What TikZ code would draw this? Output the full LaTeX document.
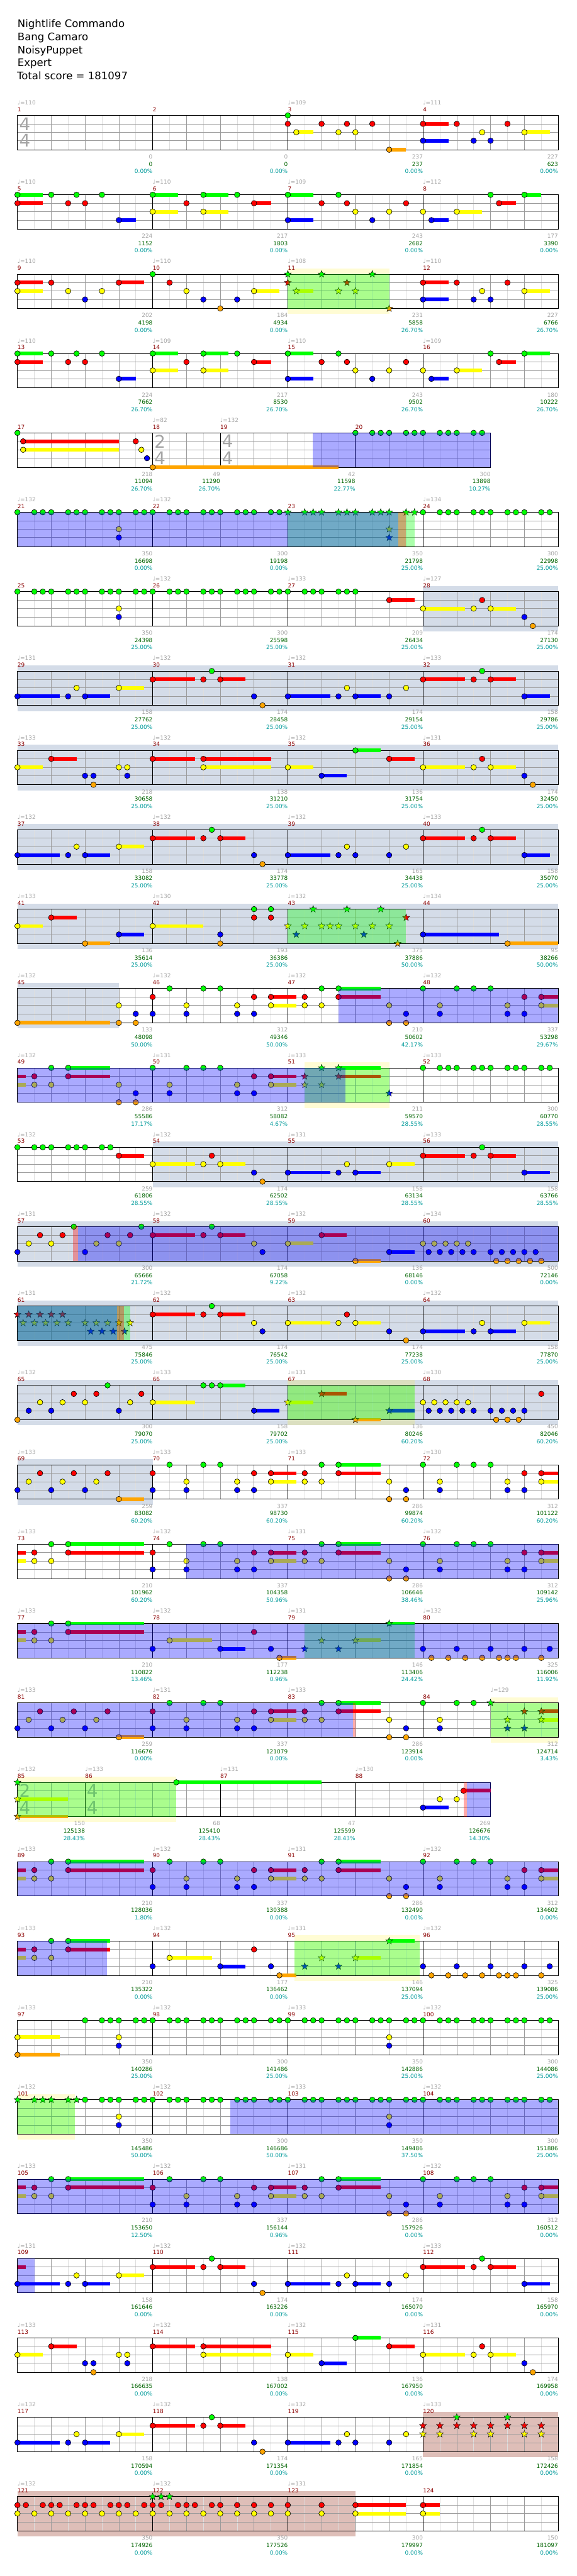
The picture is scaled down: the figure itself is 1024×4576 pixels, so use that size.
\documentclass[tikz,border=0pt]{standalone}
\usepackage{fontspec}
\setmainfont{DejaVu Sans}

% fret colours
\definecolor{fret0}{RGB}{0,255,0}
\definecolor{fret1}{RGB}{255,0,0}
\definecolor{fret2}{RGB}{255,255,0}
\definecolor{fret3}{RGB}{0,0,255}
\definecolor{fret4}{RGB}{255,165,0}
% text and grid colours
\definecolor{numred}{RGB}{139,0,0}
\definecolor{scoregreen}{RGB}{0,100,0}
\definecolor{pctteal}{RGB}{0,155,155}
\definecolor{tempogray}{RGB}{165,165,165}
\definecolor{solobg}{RGB}{212,220,232}
\definecolor{rosebg}{RGB}{222,190,184}
\definecolor{gridgray}{RGB}{155,155,155}
\definecolor{halfgray}{RGB}{222,222,222}

\tikzset{
  halfline/.style={halfgray, line width=0.7pt},
  beatline/.style={gridgray, line width=0.8pt},
  staffline/.style={black, line width=0.9pt},
  smalltext/.style={inner sep=0pt, font=\fontsize{10}{12}\selectfont},
  numlabel/.style={smalltext, numred},
  tempolabel/.style={smalltext, tempogray},
  gscore/.style={smalltext, tempogray},
  sscore/.style={smalltext, scoregreen},
  pscore/.style={smalltext, pctteal},
  tsig/.style={inner sep=0pt, tempogray, font=\fontsize{31}{31}\selectfont},
  titletext/.style={inner sep=0pt, font=\fontsize{18.5}{22}\selectfont},
  fretnote/.style={draw=black, line width=0.7pt},
}

% y of a lane inside a staff
\newcommand{\lanepos}[1]{\pgfmathsetmacro\ny{(#1<4)*15*#1+(#1==4)*61}}
% note: beat, lane, sustain
\newcommand{\nt}[3]{%
  \lanepos{#2}%
  \ifdim #3 pt>0pt \fill[fret#2] ({60*(#1)},\ny-3.3) rectangle ({60*(#1+#3)},\ny+3.3);\fi
  \filldraw[fretnote, fill=fret#2] ({60*(#1)},\ny) circle (4.9pt);}
% star power note
\newcommand{\spn}[3]{%
  \lanepos{#2}%
  \ifdim #3 pt>0pt \fill[fret#2] ({60*(#1)},\ny-3.3) rectangle ({60*(#1+#3)},\ny+3.3);\fi
  \filldraw[fretnote, line width=0.5pt, fill=fret#2, shift={({60*(#1)},\ny)}]
    (90:6.5pt) -- (126:2.7pt) -- (162:6.5pt) -- (198:2.7pt) -- (234:6.5pt) -- (270:2.7pt)
    -- (306:6.5pt) -- (342:2.7pt) -- (18:6.5pt) -- (54:2.7pt) -- cycle;}
% sustain carried over from the row before
\newcommand{\tail}[3]{\lanepos{#2}\fill[fret#2] ({60*(#1)},\ny-3.3) rectangle ({60*(#1+#3)},\ny+3.3);}

\newcommand{\notes}[1]{\foreach \pos/\lane in {#1} {\nt{\pos}{\lane}{0}}}
\newcommand{\holds}[1]{\foreach \pos/\lane/\len in {#1} {\nt{\pos}{\lane}{\len}}}
\newcommand{\stars}[1]{\foreach \pos/\lane in {#1} {\spn{\pos}{\lane}{0}}}
\newcommand{\starholds}[1]{\foreach \pos/\lane/\len in {#1} {\spn{\pos}{\lane}{\len}}}
\newcommand{\greenrun}[2]{\foreach \k in {#1,...,#2} {\nt{\k}{0}{0}\nt{\k+0.5}{0}{0}\nt{\k+0.75}{0}{0}}}
\newcommand{\starrun}[2]{\foreach \k in {#1,...,#2} {\spn{\k}{0}{0}\spn{\k+0.5}{0}{0}\spn{\k+0.75}{0}{0}}}

% shaded sections
\newcommand{\soloband}[2]{\fill[solobg] ({60*(#1)},-10) rectangle ({60*(#2)},71);}
\newcommand{\roseband}[2]{\fill[rosebg] ({60*(#1)},-10) rectangle ({60*(#2)},71);}
\newcommand{\spband}[2]{\fill[yellow, fill opacity=0.17] ({60*(#1)},-10) rectangle ({60*(#2)},71);}
\newcommand{\spgreen}[2]{\fill[fret0, fill opacity=0.333] ({60*(#1)},0) rectangle ({60*(#2)},61);}
\newcommand{\spred}[2]{\fill[fret1, fill opacity=0.333] ({60*(#1)},0) rectangle ({60*(#2)},61);}
\newcommand{\spblue}[2]{\fill[fret3, fill opacity=0.333] ({60*(#1)},0) rectangle ({60*(#2)},61);}

% empty staff of #1 beats
\newcommand{\staffgrid}[1]{%
  \pgfmathtruncatemacro\nh{2*#1-1}%
  \foreach \i in {1,...,\nh} \draw[halfline] ({30*\i},0) -- ({30*\i},61);
  \pgfmathtruncatemacro\nb{#1-1}%
  \foreach \i in {1,...,\nb} \draw[beatline] ({60*\i},0) -- ({60*\i},61);
  \foreach \y in {15,30,45} \draw[beatline] (0,\y) -- ({60*#1},\y);
  \draw[staffline] (0,0) rectangle ({60*#1},61);}

% bars: start/beats/number/tempo/base/total/percent
\newcommand{\bars}[1]{%
  \foreach \mstart/\dur/\num/\bpm/\ga/\gb/\pc in {#1} {
    \ifdim \mstart pt>0pt \draw[staffline] ({60*\mstart},0) -- ({60*\mstart},61);\fi
    \node[numlabel, anchor=base west] (m\num) at ({60*\mstart},-7) {\num};
    \ifnum\bpm>0 \node[tempolabel, anchor=base west] (tp\num) at ({60*\mstart},-19) {♩=\bpm};\fi
    \node[gscore, anchor=base east] (ga\num) at ({60*(\mstart+\dur)},77) {\ga};
    \node[sscore, anchor=base east] (gb\num) at ({60*(\mstart+\dur)},90) {\gb};
    \node[pscore, anchor=base east] (pc\num) at ({60*(\mstart+\dur)},103) {\pc\%};
  }}
\newcommand{\timesig}[4]{%
  \node[tsig] (#4a) at ({60*(#1)+13},15) {#2};
  \node[tsig] (#4b) at ({60*(#1)+13},45) {#3};}

% recurring chorus figure, beats 4-16
\newcommand{\chorus}{%
  \notes{4/1, 4/3, 4.5/0, 5/2, 5/3, 5.5/0, 6/0, 6.5/2, 6.5/3, 7/1, 7/3, 8.5/1, 8.5/2, 9/0, 9/2,
    11/2, 11/4, 11.5/3, 11.5/4, 12/0, 12.5/2, 12.5/3, 13/0, 13.5/0, 14/0, 14.5/2, 14.5/3, 15/1, 15/3}
  \holds{7.5/1/0.75, 7.5/2/0.75, 9.5/0/1.25, 9.5/1/1.25, 15.5/1/0.5, 15.5/2/0.5}}

\begin{document}
\begin{tikzpicture}[x=1pt, y=-1pt]
\useasboundingbox[fill=white] (0,0) rectangle (1024,4576);

% title block
\node[titletext, anchor=base west] (song) at (31,49) {Nightlife Commando};
\node[titletext, anchor=base west] (artist) at (31,72) {Bang Camaro};
\node[titletext, anchor=base west] (charter) at (31,95) {NoisyPuppet};
\node[titletext, anchor=base west] (level) at (31,118) {Expert};
\node[titletext, anchor=base west] (total) at (30,141) {Total score = 181097};

% row 1: bars 1-4
\begin{scope}[shift={(31,205)}]
  \staffgrid{16}
  \bars{0/4/1/110/0/0/0.00, 4/4/2/0/0/0/0.00, 8/4/3/109/237/237/0.00, 12/4/4/111/227/623/0.00}
  \timesig{0}{4}{4}{tsone}
  \holds{8.25/2/0.5, 11/4/0.5, 12/1/0.75, 12/3/0.75, 15/2/0.75}
  \notes{8/0, 8/1, 9/1, 9.5/2, 9.75/1, 10/2, 10.5/1, 13/1, 13.5/3, 13.75/2, 14/3, 14.5/1}
\end{scope}

% row 2: bars 5-8
\begin{scope}[shift={(31,346)}]
  \staffgrid{16}
  \bars{0/4/5/110/224/1152/0.00, 4/4/6/110/217/1803/0.00, 8/4/7/109/243/2682/0.00, 12/4/8/112/177/3390/0.00}
  \holds{0/0/0.75, 0/1/0.75, 3/3/0.5, 4/0/0.75, 4/2/0.75, 5.5/0/0.75, 5.5/2/0.75, 7/1/0.5,
    8/0/0.75, 8/3/0.75, 12.25/3/0.5, 13/2/0.75, 14.25/1/0.5, 15/0/0.5}
  \notes{1/0, 1.5/1, 1.75/0, 2/1, 2.5/0, 5/1, 6.5/0, 9/1, 9.5/0, 9.75/1, 10/2, 10.5/3, 11/2, 11.5/1, 12/2, 14/0}
\end{scope}

% row 3: bars 9-12
\begin{scope}[shift={(31,487)}]
  \spband{8}{11}
  \staffgrid{16}
  \bars{0/4/9/110/202/4198/0.00, 4/4/10/110/184/4934/0.00, 8/4/11/108/231/5858/26.70, 12/4/12/110/227/6766/26.70}
  \holds{0/1/0.75, 0/2/0.75, 3/1/0.75, 7/2/0.75, 12/1/0.75, 12/3/0.75, 15/2/0.75}
  \notes{1/1, 1.5/2, 2/3, 2.5/2, 4/0, 4.5/1, 5/2, 5.5/3, 6/4, 6.5/3, 13/1, 13.5/3, 13.75/2, 14/3, 14.5/1}
  \starholds{8.25/2/0.5}
  \stars{8/0, 8/1, 9/0, 9.5/2, 9.75/1, 10/2, 10.5/0, 11/4}
  \spgreen{8}{11}
\end{scope}

% row 4: bars 13-16
\begin{scope}[shift={(31,628)}]
  \staffgrid{16}
  \bars{0/4/13/110/224/7662/26.70, 4/4/14/109/217/8530/26.70, 8/4/15/110/243/9502/26.70, 12/4/16/109/180/10222/26.70}
  \holds{0/0/0.75, 0/1/0.75, 3/3/0.5, 4/0/0.75, 4/2/0.75, 5.5/0/0.75, 5.5/2/0.75, 7/1/0.5,
    8/0/0.75, 8/3/0.75, 12.25/3/0.5, 13/2/0.75, 14.25/1/0.5, 15/0/0.75}
  \notes{1/0, 1.5/1, 1.75/0, 2/1, 2.5/0, 5/1, 6.5/0, 9/1, 9.5/0, 9.75/1, 10/2, 10.5/3, 11/2, 11.5/1, 12/2, 14/0}
\end{scope}

% row 5: bars 17-20
\begin{scope}[shift={(31,769)}]
  \staffgrid{14}
  \bars{0/4/17/0/218/11094/26.70, 4/2/18/82/49/11290/26.70, 6/4/19/132/42/11598/22.77, 10/4/20/0/300/13898/10.27}
  \timesig{4}{2}{4}{tstwo}
  \timesig{6}{4}{4}{tsthree}
  \holds{0.167/1/2.833, 0.167/2/2.833, 4/4/5.5}
  \notes{0/0, 3.5/1, 3.667/2, 3.833/3}
  \greenrun{10}{13}
  \spblue{8.73}{14}
\end{scope}

% row 6: bars 21-24
\begin{scope}[shift={(31,910)}]
  \staffgrid{16}
  \bars{0/4/21/132/350/16698/0.00, 4/4/22/132/300/19198/0.00, 8/4/23/0/350/21798/25.00, 12/4/24/134/300/22998/25.00}
  \greenrun{0}{7}
  \greenrun{12}{15}
  \notes{3/2, 3/3}
  \starrun{8}{11}
  \stars{11/2, 11/3}
  \spgreen{8}{11.75}
  \spred{11.27}{11.5}
  \spblue{0}{11.27}
\end{scope}

% row 7: bars 25-28
\begin{scope}[shift={(31,1051)}]
  \soloband{12}{16}
  \staffgrid{16}
  \bars{0/4/25/0/350/24398/25.00, 4/4/26/132/300/25598/25.00, 8/4/27/133/209/26434/25.00, 12/4/28/127/174/27130/25.00}
  \greenrun{0}{9}
  \notes{10/0, 3/2, 3/3, 13.5/2, 13.75/1, 15/3, 15.25/4}
  \holds{11/1/0.75, 12/2/1.25, 14/2/0.75}
\end{scope}

% row 8: bars 29-32
\begin{scope}[shift={(31,1192)}]
  \soloband{0}{16}
  \staffgrid{16}
  \bars{0/4/29/131/158/27762/25.00, 4/4/30/132/174/28458/25.00, 8/4/31/132/174/29154/25.00, 12/4/32/133/158/29786/25.00}
  \holds{0/3/1.25, 2/3/0.75, 3/2/0.75, 4/1/1.25, 6/1/0.75, 8/3/1.25, 10/3/0.75, 12/1/1.25, 14/1/0.75, 15/3/0.75}
  \notes{1.5/3, 1.75/2, 5.5/1, 5.75/0, 7/3, 7.25/4, 9.5/3, 9.75/2, 11/3, 11.5/2, 13.5/1, 13.75/0}
\end{scope}

% row 9: bars 33-36
\begin{scope}[shift={(31,1333)}]
  \soloband{0}{16}
  \staffgrid{16}
  \bars{0/4/33/133/218/30658/25.00, 4/4/34/132/138/31210/25.00, 8/4/35/132/136/31754/25.00, 12/4/36/131/174/32450/25.00}
  \holds{0/2/0.75, 1/1/0.75, 4/1/1.25, 5.5/1/2, 5.5/2/2, 8/2/0.75, 9/3/0.75, 10/0/0.75, 11/1/0.75, 12/2/1.25, 14/2/0.75}
  \notes{2/3, 2.25/3, 2.25/4, 3/2, 3.25/2, 3.25/3, 13.5/2, 13.75/1, 15/3, 15.25/4}
\end{scope}

% row 10: bars 37-40
\begin{scope}[shift={(31,1474)}]
  \soloband{0}{16}
  \staffgrid{16}
  \bars{0/4/37/132/158/33082/25.00, 4/4/38/132/174/33778/25.00, 8/4/39/132/165/34438/25.00, 12/4/40/133/158/35070/25.00}
  \holds{0/3/1.25, 2/3/0.75, 3/2/0.75, 4/1/1.25, 6/1/0.75, 8/3/1.25, 12/1/1.25, 14/1/0.75, 15/3/0.75}
  \notes{1.5/3, 1.75/2, 5.5/1, 5.75/0, 7/3, 7.25/4, 9.5/3, 9.75/2, 10/3, 11/3, 11.5/2, 13.5/1, 13.75/0}
\end{scope}

% row 11: bars 41-44
\begin{scope}[shift={(31,1615)}]
  \soloband{0}{16}
  \staffgrid{16}
  \bars{0/4/41/133/136/35614/25.00, 4/4/42/130/193/36386/25.00, 8/4/43/132/375/37886/50.00, 12/4/44/134/95/38266/50.00}
  \holds{0/2/0.75, 1/1/0.75, 2/4/0.75, 3/3/0.75, 4/2/1.5, 12/3/2.25, 14.5/4/1.5}
  \notes{6/3, 6/4, 7/0, 7/1, 7.5/0, 7.5/1}
  \stars{8/2, 8.25/3, 8.5/2, 8.75/0, 9/2, 9.25/2, 9.5/2, 9.75/0, 10/2, 10.25/3, 10.5/2, 10.75/0, 11/2, 11.25/4, 11.5/1}
  \spgreen{8}{11.5}
\end{scope}

% row 12: bars 45-48
\begin{scope}[shift={(31,1756)}]
  \soloband{0}{3}
  \staffgrid{16}
  \bars{0/4/45/132/133/48098/50.00, 4/4/46/132/312/49346/50.00, 8/4/47/132/210/50602/42.17, 12/4/48/132/337/53298/29.67}
  \holds{0/4/2.75}
  \notes{3/2, 3/4, 3.5/3, 3.5/4}
  \chorus
  \spblue{9.5}{16}
\end{scope}

% row 13: bars 49-52
\begin{scope}[shift={(31,1897)}]
  \spband{8.5}{11}
  \staffgrid{16}
  \bars{0/4/49/132/286/55586/17.17, 4/4/50/131/312/58082/4.67, 8/4/51/133/211/59570/28.55, 12/4/52/133/300/60770/28.55}
  \tail{0}{1}{0.25}
  \tail{0}{2}{0.25}
  \holds{1.5/0/1.25, 1.5/1/1.25, 7.5/1/0.75, 7.5/2/0.75}
  \notes{0.5/1, 0.5/2, 1/0, 1/2, 3/2, 3/4, 3.5/3, 3.5/4, 4/0, 4.5/2, 4.5/3, 5/0, 5.5/0, 6/0, 6.5/2, 6.5/3, 7/1, 7/3}
  \greenrun{12}{15}
  \starholds{9.5/0/1.25, 9.5/1/1.25}
  \stars{8.5/1, 8.5/2, 9/0, 9/2, 11/3}
  \spgreen{8.5}{11}
  \spblue{0}{9.7}
\end{scope}

% row 14: bars 53-56
\begin{scope}[shift={(31,2038)}]
  \soloband{4}{16}
  \staffgrid{16}
  \bars{0/4/53/132/259/61806/28.55, 4/4/54/132/174/62502/28.55, 8/4/55/131/158/63134/28.55, 12/4/56/133/158/63766/28.55}
  \greenrun{0}{1}
  \notes{2/0, 2.5/0, 2.75/0, 5.5/2, 5.75/1, 7/3, 7.25/4, 9.5/3, 9.75/2, 13.5/1, 13.75/0}
  \holds{3/1/0.75, 4/2/1.25, 6/2/0.75, 8/3/1.25, 10/3/0.75, 11/2/0.75, 12/1/1.25, 14/1/0.75, 15/3/0.75}
\end{scope}

% row 15: bars 57-60
\begin{scope}[shift={(31,2179)}]
  \soloband{0}{16}
  \staffgrid{16}
  \bars{0/4/57/131/300/65666/21.72, 4/4/58/132/174/67058/9.22, 8/4/59/132/136/68146/0.00, 12/4/60/134/500/72146/0.00}
  \notes{0/3, 0.333/2, 0.667/1, 1/2, 1.333/1, 1.667/0, 2/3, 2.333/2, 2.667/1, 3/2, 3.333/1, 3.667/0,
    5.5/1, 5.75/0, 7/2, 7.25/3, 12/2, 12.333/2, 12.667/2, 13/2, 13.333/2,
    12.167/3, 12.5/3, 12.833/3, 13.167/3, 13.5/3, 14/3, 14.333/3, 14.667/3, 15/3, 15.333/3,
    14.167/4, 14.5/4, 14.833/4, 15.167/4, 15.5/4}
  \holds{4/1/1.25, 6/1/0.75, 8/2/0.75, 9/1/0.75, 10/4/0.75, 11/3/0.75}
  \spred{1.65}{1.79}
  \spblue{1.79}{16}
\end{scope}

% row 16: bars 61-64
\begin{scope}[shift={(31,2320)}]
  \soloband{0}{16}
  \staffgrid{16}
  \bars{0/4/61/131/475/75846/25.00, 4/4/62/132/174/76542/25.00, 8/4/63/132/174/77238/25.00, 12/4/64/132/158/77870/25.00}
  \stars{0/1, 0.333/1, 0.667/1, 1/1, 1.333/1, 0.167/2, 0.5/2, 0.833/2, 1.167/2, 1.5/2,
    2/2, 2.333/2, 2.667/2, 3/2, 3.333/2, 2.167/3, 2.5/3, 2.833/3, 3.167/3}
  \holds{4/1/1.25, 6/1/0.75, 8/2/1.25, 10/2/0.75, 12/3/1.25, 14/3/0.75, 15/2/0.75}
  \notes{5.5/1, 5.75/0, 7/2, 7.25/3, 9.5/2, 9.75/1, 11/3, 11.5/4, 13.5/3, 13.75/2}
  \spgreen{0}{3.33}
  \spred{2.94}{3.15}
  \spblue{0}{2.94}
\end{scope}

% row 17: bars 65-68
\begin{scope}[shift={(31,2461)}]
  \soloband{0}{16}
  \spband{8}{11.75}
  \staffgrid{16}
  \bars{0/4/65/132/300/79070/25.00, 4/4/66/133/158/79702/25.00, 8/4/67/131/136/80246/60.20, 12/4/68/130/450/82046/60.20}
  \notes{0/4, 0.333/3, 0.667/2, 1/3, 1.333/2, 1.667/1, 2/2, 2.333/1, 2.667/0, 3/3, 3.333/2, 3.667/1,
    5.5/0, 5.75/0, 12/2, 12.333/2, 12.667/2, 13/2, 13.333/2,
    12.167/3, 12.5/3, 12.833/3, 13.167/3, 13.5/3, 14/3, 14.333/3, 14.667/3, 15/3,
    14.167/4, 14.5/4, 14.833/4, 15.5/1}
  \holds{4/2/1.25, 6/0/0.75, 7/3/0.75}
  \starholds{8/2/0.75, 9/1/0.75, 10/4/0.75, 11/3/0.75}
  \spgreen{8}{11.75}
\end{scope}

% row 18: bars 69-72
\begin{scope}[shift={(31,2602)}]
  \soloband{0}{4}
  \staffgrid{16}
  \bars{0/4/69/133/259/83082/60.20, 4/4/70/133/337/98730/60.20, 8/4/71/133/286/99874/60.20, 12/4/72/130/312/101122/60.20}
  \notes{0/3, 0.333/2, 0.667/1, 1/3, 1.333/2, 1.667/1, 2/3, 2.333/2, 2.667/1}
  \holds{3/4/0.75}
  \chorus
\end{scope}

% row 19: bars 73-76
\begin{scope}[shift={(31,2743)}]
  \staffgrid{16}
  \bars{0/4/73/133/210/101962/60.20, 4/4/74/132/337/104358/50.96, 8/4/75/131/286/106646/38.46, 12/4/76/132/312/109142/25.96}
  \tail{0}{1}{0.25}
  \tail{0}{2}{0.25}
  \notes{0.5/1, 0.5/2, 1/0, 1/2}
  \holds{1.5/0/2.25, 1.5/1/2.25}
  \chorus
  \spblue{5}{16}
\end{scope}

% row 20: bars 77-80
\begin{scope}[shift={(31,2884)}]
  \staffgrid{16}
  \bars{0/4/77/133/210/110822/13.46, 4/4/78/132/177/112238/0.96, 8/4/79/131/146/113406/24.42, 12/4/80/132/325/116006/11.92}
  \tail{0}{1}{0.25}
  \tail{0}{2}{0.25}
  \notes{0.5/1, 0.5/2, 1/0, 1/2, 4/3, 7/1, 7.5/3, 12/3, 12.25/4, 12.75/4, 13/3, 13.25/4, 13.75/4,
    14/3, 14.25/4, 14.5/4, 14.75/4, 15/3, 15.5/4, 15.75/3}
  \holds{1.5/0/2.25, 1.5/1/2.25, 4.5/2/1.25, 6/3/0.75, 7.75/4/0.5}
  \stars{8.5/3, 9/2, 9.5/3}
  \starholds{10/2/0.75, 11/0/0.75}
  \spgreen{8.5}{11.75}
  \spblue{0}{16}
\end{scope}

% row 21: bars 81-84
\begin{scope}[shift={(31,3025)}]
  \spband{14}{16}
  \staffgrid{16}
  \bars{0/4/81/133/259/116676/0.00, 4/4/82/131/337/121079/0.00, 8/4/83/133/286/123914/0.00, 12/4/84/0/312/124714/3.43}
  \node[tempolabel, anchor=base west] (tpextra) at (840,-19) {♩=129};
  \notes{0/3, 0.333/2, 0.667/1, 1/3, 1.333/2, 1.667/1, 2/3, 2.333/2, 2.667/1,
    4/1, 4/3, 4.5/0, 5/2, 5/3, 5.5/0, 6/0, 6.5/2, 6.5/3, 7/1, 7/3, 8.5/1, 8.5/2, 9/0, 9/2,
    11/2, 11/4, 11.5/3, 11.5/4, 12/0, 12.5/2, 12.5/3, 13/0, 13.5/0}
  \holds{3/4/0.75, 7.5/1/0.75, 7.5/2/0.75, 9.5/0/1.25, 9.5/1/1.25}
  \stars{14/0, 14.5/2, 14.5/3, 15/1, 15/3}
  \starholds{15.5/1/0.5, 15.5/2/0.5}
  \spgreen{14}{16}
  \spred{9.93}{10}
  \spblue{0}{9.93}
\end{scope}

% row 22: bars 85-88
\begin{scope}[shift={(31,3166)}]
  \spband{0}{4.7}
  \staffgrid{14}
  \bars{0/2/85/132/150/125138/28.43, 2/4/86/133/68/125410/28.43, 6/4/87/131/47/125599/28.43, 10/4/88/130/269/126676/14.30}
  \timesig{0}{2}{4}{tsfour}
  \timesig{2}{4}{4}{tsfive}
  \starholds{0/2/1.5, 0/4/1.5}
  \stars{0/0}
  \holds{4.7/0/4.3, 12/3/0.75, 13.2/1/0.8}
  \notes{12.5/2, 13/2}
  \spgreen{0}{4.7}
  \spred{13.2}{13.3}
  \spblue{13.3}{14}
\end{scope}

% row 23: bars 89-92
\begin{scope}[shift={(31,3307)}]
  \staffgrid{16}
  \bars{0/4/89/133/210/128036/1.80, 4/4/90/132/337/130388/0.00, 8/4/91/131/286/132490/0.00, 12/4/92/132/312/134602/0.00}
  \tail{0}{1}{0.25}
  \tail{0}{2}{0.25}
  \notes{0.5/1, 0.5/2, 1/0, 1/2}
  \holds{1.5/0/2.25, 1.5/1/2.25}
  \chorus
  \spblue{0}{16}
\end{scope}

% row 24: bars 93-96
\begin{scope}[shift={(31,3448)}]
  \spband{8.2}{11.9}
  \staffgrid{16}
  \bars{0/4/93/133/210/135322/0.00, 4/4/94/132/177/136462/0.00, 8/4/95/131/146/137094/25.00, 12/4/96/132/325/139086/25.00}
  \tail{0}{1}{0.25}
  \tail{0}{2}{0.25}
  \notes{0.5/1, 0.5/2, 1/0, 1/2, 4/3, 7/1, 7.5/3, 12/3, 12.25/4, 12.75/4, 13/3, 13.25/4, 13.75/4,
    14/3, 14.25/4, 14.5/4, 14.75/4, 15/3, 15.5/4, 15.75/3}
  \holds{1.5/0/1.25, 1.5/1/1.25, 4.5/2/1.25, 6/3/0.75, 7.75/4/0.5}
  \stars{8.5/3, 9/2, 9.5/3}
  \starholds{10/2/0.75, 11/0/0.75}
  \spgreen{8.2}{11.9}
  \spblue{0}{2.65}
\end{scope}

% row 25: bars 97-100
\begin{scope}[shift={(31,3589)}]
  \staffgrid{16}
  \bars{0/4/97/133/350/140286/25.00, 4/4/98/132/300/141486/25.00, 8/4/99/133/350/142886/25.00, 12/4/100/132/300/144086/25.00}
  \holds{0/4/1.25, 0/2/1.25}
  \greenrun{2}{15}
  \notes{3/2, 3/3, 11/2, 11/3}
\end{scope}

% row 26: bars 101-104
\begin{scope}[shift={(31,3730)}]
  \spband{0}{1.7}
  \staffgrid{16}
  \bars{0/4/101/132/350/145486/50.00, 4/4/102/132/300/146686/50.00, 8/4/103/133/350/149486/37.50, 12/4/104/132/300/151886/25.00}
  \starrun{0}{1}
  \greenrun{2}{15}
  \notes{3/2, 3/3, 11/2, 11/3}
  \spgreen{0}{1.7}
  \spblue{6.3}{16}
\end{scope}

% row 27: bars 105-108
\begin{scope}[shift={(31,3871)}]
  \staffgrid{16}
  \bars{0/4/105/133/210/153650/12.50, 4/4/106/132/337/156144/0.96, 8/4/107/131/286/157926/0.00, 12/4/108/132/312/160512/0.00}
  \tail{0}{1}{0.25}
  \tail{0}{2}{0.25}
  \notes{0.5/1, 0.5/2, 1/0, 1/2}
  \holds{1.5/0/2.25, 1.5/1/2.25}
  \chorus
  \spblue{0}{16}
\end{scope}

% row 28: bars 109-112
\begin{scope}[shift={(31,4012)}]
  \staffgrid{16}
  \bars{0/4/109/131/158/161646/0.00, 4/4/110/132/174/163226/0.00, 8/4/111/132/174/165070/0.00, 12/4/112/133/158/165970/0.00}
  \tail{0}{1}{0.25}
  \holds{0/3/1.25, 2/3/0.75, 3/2/0.75, 4/1/1.25, 6/1/0.75, 8/3/1.25, 10/3/0.75, 12/1/1.25, 14/1/0.75, 15/3/0.75}
  \notes{1.5/3, 1.75/2, 5.5/1, 5.75/0, 7/3, 7.25/4, 9.5/3, 9.75/2, 11/3, 11.5/2, 13.5/1, 13.75/0}
  \spblue{0}{0.5}
\end{scope}

% row 29: bars 113-116
\begin{scope}[shift={(31,4153)}]
  \staffgrid{16}
  \bars{0/4/113/133/218/166635/0.00, 4/4/114/132/138/167002/0.00, 8/4/115/132/136/167950/0.00, 12/4/116/131/174/169958/0.00}
  \holds{0/2/0.75, 1/1/0.75, 4/1/1.25, 5.5/1/2, 5.5/2/2, 8/2/0.75, 9/3/0.75, 10/0/0.75, 11/1/0.75, 12/2/1.25, 14/2/0.75}
  \notes{2/3, 2.25/3, 2.25/4, 3/2, 3.25/2, 3.25/3, 13.5/2, 13.75/1, 15/3, 15.25/4}
\end{scope}

% row 30: bars 117-120
\begin{scope}[shift={(31,4294)}]
  \roseband{12}{16}
  \staffgrid{16}
  \bars{0/4/117/132/158/170594/0.00, 4/4/118/132/174/171354/0.00, 8/4/119/132/165/171854/0.00, 12/4/120/133/158/172426/0.00}
  \holds{0/3/1.25, 2/3/0.75, 3/2/0.75, 4/1/1.25, 6/1/0.75, 8/3/1.25}
  \notes{1.5/3, 1.75/2, 5.5/1, 5.75/0, 7/3, 7.25/4, 9.5/3, 9.75/2, 10/3, 11/3, 11.5/2}
  \stars{12/1, 12/2, 12.5/1, 12.5/2, 13/0, 13/1, 13.5/1, 13.5/2, 14/1, 14/2, 14.5/0, 14.5/1, 15/1, 15/2, 15.5/1, 15.5/2}
\end{scope}

% row 31: bars 121-124
\begin{scope}[shift={(31,4435)}]
  \roseband{0}{10}
  \staffgrid{16}
  \bars{0/4/121/132/350/174926/0.00, 4/4/122/132/350/177526/0.00, 8/4/123/131/300/179997/0.00, 12/4/124/0/150/181097/0.00}
  \notes{0/1, 0/2, 0.25/1, 0.5/2, 0.75/1, 1/1, 1/2, 1.25/1, 1.5/2, 1.75/1, 2/1, 2/2, 2.25/1, 2.5/2, 2.75/1,
    3/1, 3/2, 3.25/1, 3.5/2, 3.75/1, 4/1, 4/2, 4.25/1, 4.5/2, 4.75/1, 5/1, 5/2, 5.25/1, 5.5/2, 5.75/1,
    6/1, 6/2, 6.5/1, 6.5/2, 7/1, 7/2, 7.5/1, 7.5/2, 8/1, 8/2, 9/1, 9/2}
  \stars{4/0, 4.25/0, 4.5/0}
  \holds{10/1/1.5, 10/2/1.5, 12/1/0.5, 12/2/0.5}
\end{scope}
\end{tikzpicture}
\end{document}
